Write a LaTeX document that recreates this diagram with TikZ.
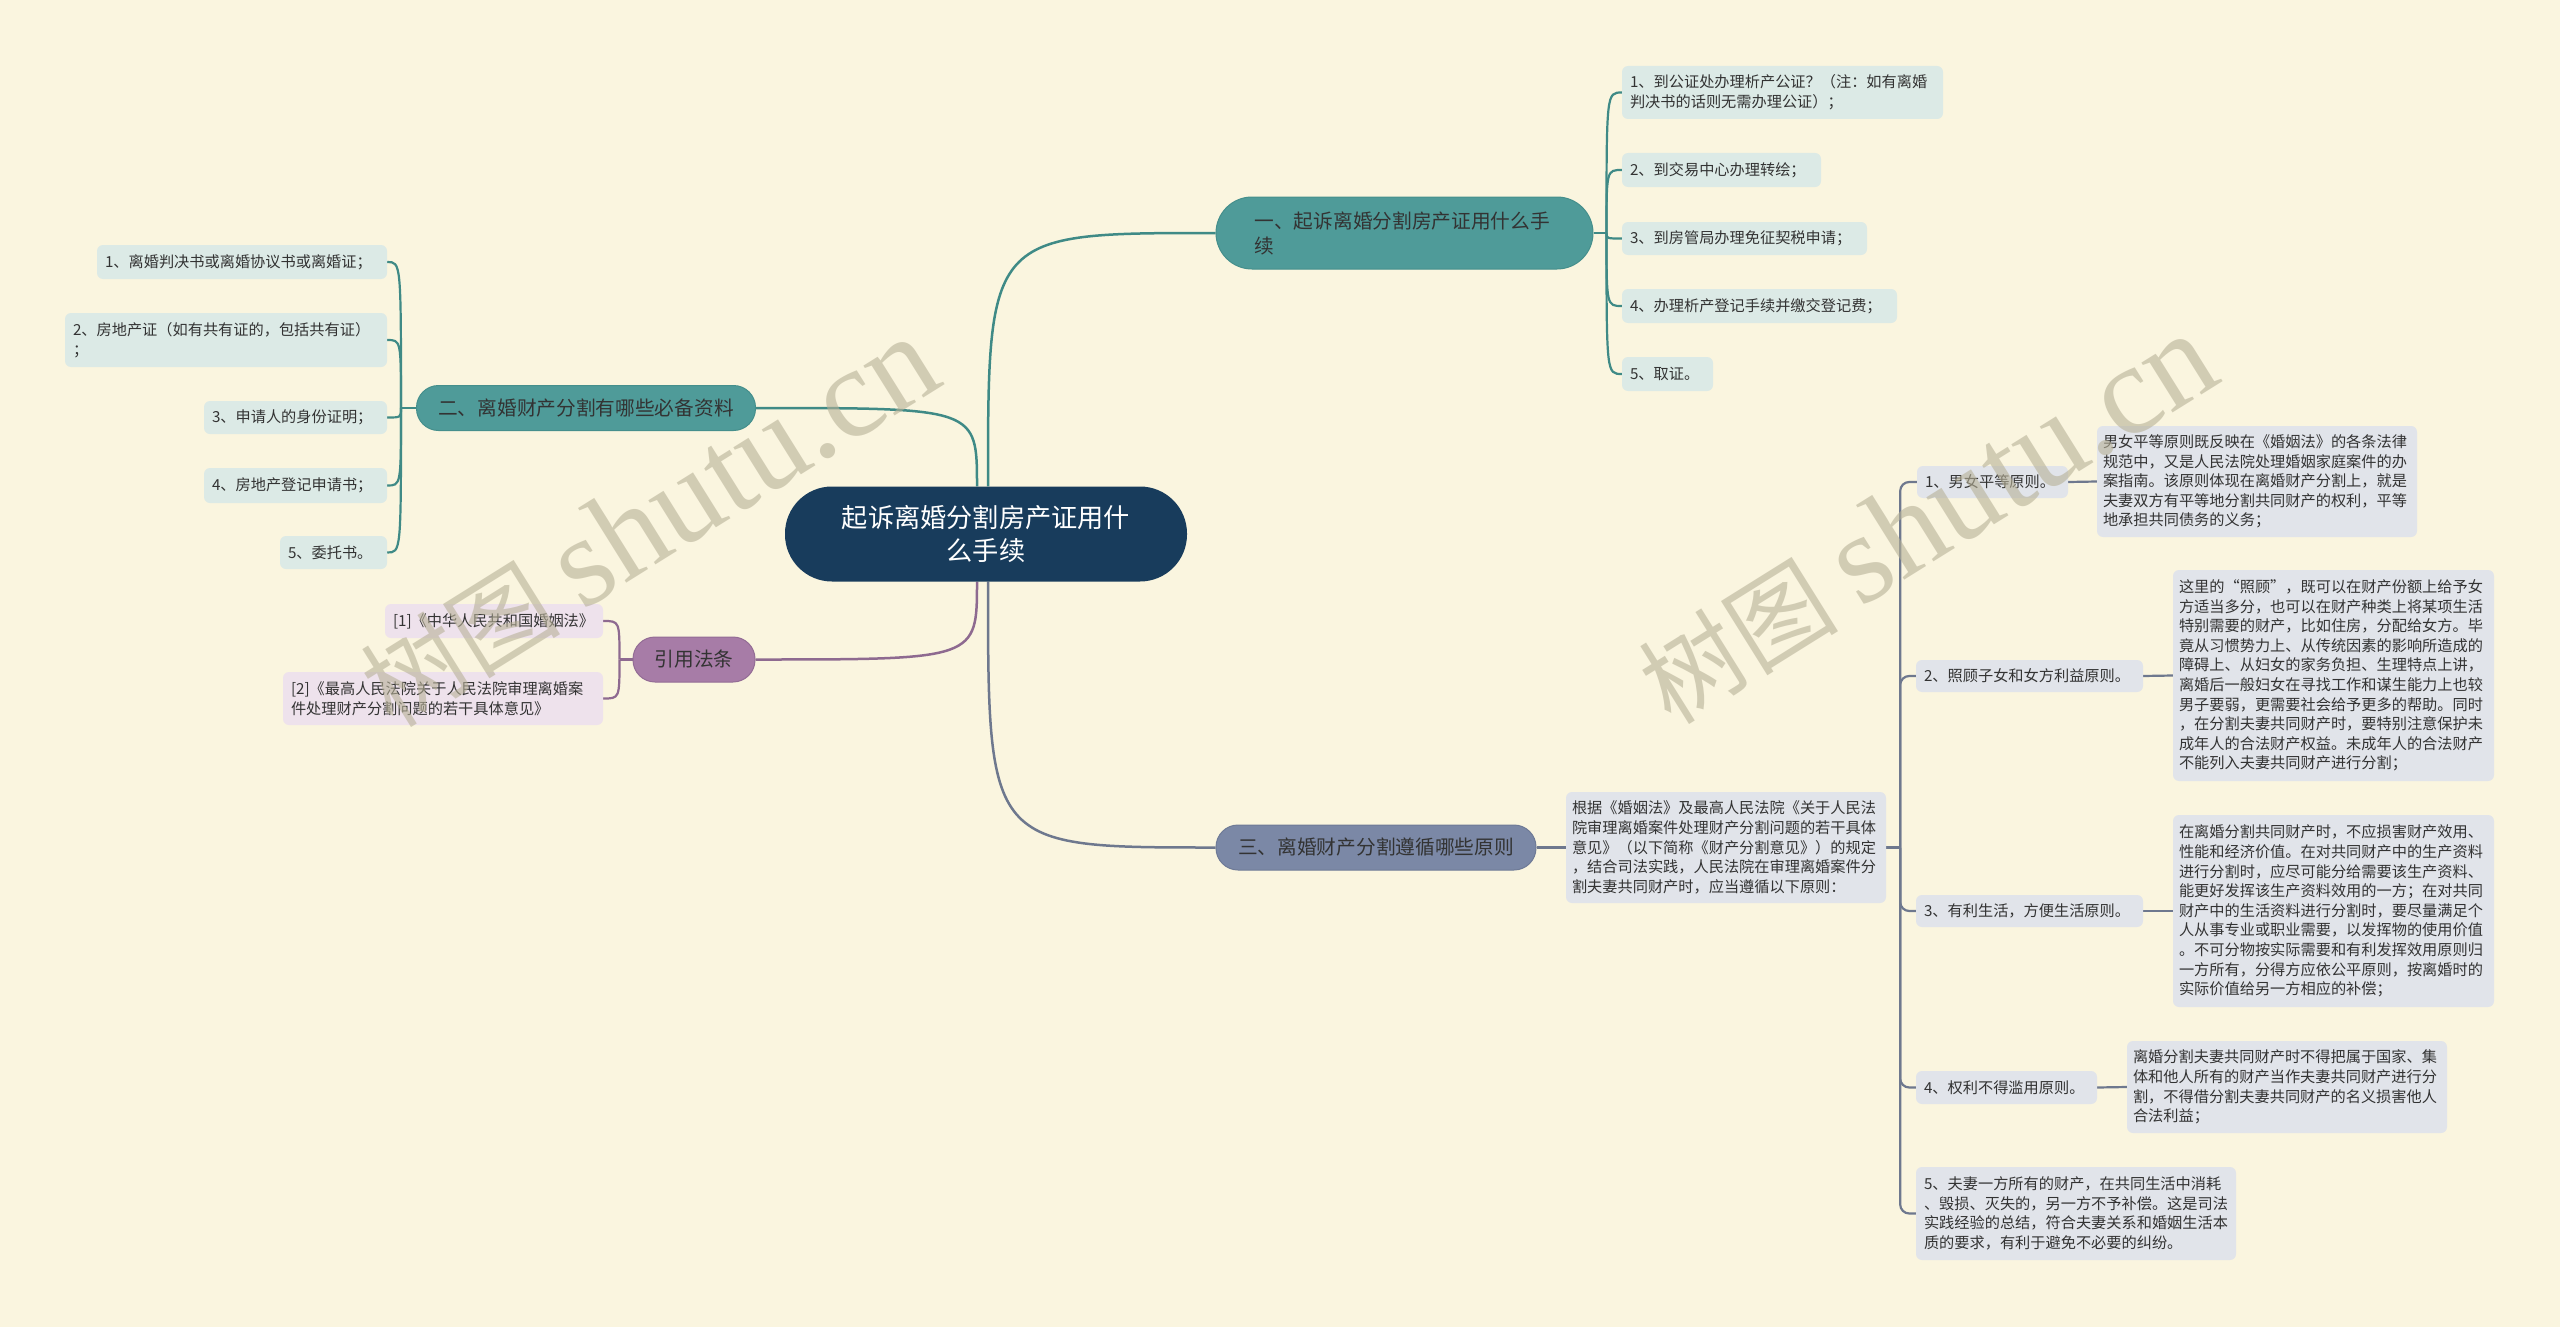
\documentclass[tikz,border=0pt]{standalone}
\usepackage{fontspec}
\setmainfont{Noto Sans CJK SC}
\newfontfamily\wmlatin{Liberation Serif}
\usetikzlibrary{calc}
\definecolor{bg}{HTML}{FAF5DF}
\definecolor{navy}{HTML}{183C5C}
\definecolor{tealf}{HTML}{4F9B99}
\definecolor{teald}{HTML}{458F8C}
\definecolor{teall}{HTML}{3F8A86}
\definecolor{tealit}{HTML}{DCEAE6}
\definecolor{slatef}{HTML}{7B88A6}
\definecolor{slated}{HTML}{6E7A96}
\definecolor{slatel}{HTML}{6E788E}
\definecolor{slateit}{HTML}{E1E4EA}
\definecolor{purf}{HTML}{A77CA7}
\definecolor{purd}{HTML}{936C95}
\definecolor{purl}{HTML}{8E6A90}
\definecolor{purit}{HTML}{EEE2EC}
\definecolor{txt}{HTML}{333333}
\definecolor{wm}{HTML}{B7B197}
\pgfdeclarelayer{background}
\pgfdeclarelayer{edges}
\pgfdeclarelayer{fg}
\pgfsetlayers{background,edges,main,fg}
\tikzset{
  small/.style={font=\fontsize{15.2pt}{19.6pt}\selectfont},
  item/.style={small, rounded corners=6pt, inner xsep=8pt, inner ysep=0pt, align=left, text=txt},
  tealitem/.style={item, fill=tealit},
  slateitem/.style={item, fill=slateit},
  puritem/.style={item, fill=purit},
  descbox/.style={item, inner xsep=6pt},
  branch/.style={font=\fontsize{19.7pt}{25pt}\selectfont, rounded corners=22pt, inner sep=0pt, line width=1pt},
  tealbranch/.style={branch, fill=tealf, draw=teald, text=black!80},
  slatebranch/.style={branch, fill=slatef, draw=slated, text=black!80},
  purbranch/.style={branch, fill=purf, draw=purd, text=black!80},
  tline/.style={draw=teall, line width=2.2pt},
  sline/.style={draw=slatel, line width=2.2pt},
  pline/.style={draw=purl, line width=2.2pt},
  wmark/.style={text=wm, text opacity=0.6, rotate=32, inner sep=0pt}
}
\begin{document}
\begin{tikzpicture}[x=1pt,y=-1pt]
\begin{pgfonlayer}{background}
\fill[bg] (0,0) rectangle (2560,1327);
\end{pgfonlayer}
\useasboundingbox (0,0) rectangle (2560,1327);

% center
\node[fill=navy, text=white, rounded corners=47pt, minimum width=402pt, minimum height=95pt, inner sep=0pt, align=center, font=\fontsize{26.2pt}{33pt}\selectfont] (C) at (986,534) {起诉离婚分割房产证用什\\么手续};

% branch 1
\node[tealbranch, rounded corners=36pt, minimum width=377pt, minimum height=72pt, text width=300pt, align=left] (B1) at (1404.5,233) {一、起诉离婚分割房产证用什么手\\续};
\node[tealitem, minimum height=53pt, text width=305pt] (I1) at (1782.5,92.5) {1、到公证处办理析产公证？（注：如有离婚\\判决书的话则无需办理公证）；};
\node[tealitem, minimum height=34pt, text width=183pt] (I2) at (1721.5,170) {2、到交易中心办理转绘；};
\node[tealitem, minimum height=33pt, text width=229pt] (I3) at (1744.5,238.5) {3、到房管局办理免征契税申请；};
\node[tealitem, minimum height=34pt, text width=259pt] (I4) at (1759.5,306) {4、办理析产登记手续并缴交登记费；};
\node[tealitem, minimum height=34pt, text width=75pt] (I5) at (1667.5,374) {5、取证。};

% branch 2
\node[tealbranch, minimum width=339pt, minimum height=45pt] (B2) at (586,408) {二、离婚财产分割有哪些必备资料};
\node[tealitem, minimum height=34pt, text width=274pt] (L1) at (242,262) {1、离婚判决书或离婚协议书或离婚证；};
\node[tealitem, minimum height=54pt, text width=306pt] (L2) at (226,340) {2、房地产证（如有共有证的，包括共有证）\\；};
\node[tealitem, minimum height=33pt, text width=167pt] (L3) at (295.5,417.5) {3、申请人的身份证明；};
\node[tealitem, minimum height=35pt, text width=167pt] (L4) at (295.5,485.5) {4、房地产登记申请书；};
\node[tealitem, minimum height=33pt, text width=91pt] (L5) at (333.5,552.5) {5、委托书。};

% references
\node[purbranch, minimum width=122pt, minimum height=45pt] (R) at (694,659.5) {引用法条};
\node[puritem, minimum height=34pt, text width=202pt] (F1) at (494,621) {[1]《中华人民共和国婚姻法》};
\node[puritem, minimum height=53pt, text width=304pt] (F2) at (443,698.5) {[2]《最高人民法院关于人民法院审理离婚案\\件处理财产分割问题的若干具体意见》};

% branch 3
\node[slatebranch, minimum width=320pt, minimum height=45pt] (B3) at (1376,847.5) {三、离婚财产分割遵循哪些原则};
\node[slateitem, descbox, minimum height=111pt, text width=308pt] (D) at (1726,847.5) {根据《婚姻法》及最高人民法院《关于人民法\\院审理离婚案件处理财产分割问题的若干具体\\意见》（以下简称《财产分割意见》）的规定\\，结合司法实践，人民法院在审理离婚案件分\\割夫妻共同财产时，应当遵循以下原则：};
\node[slateitem, minimum height=32pt, text width=135pt] (P1) at (1992.5,482) {1、男女平等原则。};
\node[slateitem, descbox, minimum height=111pt, text width=308pt] (P1D) at (2257,481.5) {男女平等原则既反映在《婚姻法》的各条法律\\规范中，又是人民法院处理婚姻家庭案件的办\\案指南。该原则体现在离婚财产分割上，就是\\夫妻双方有平等地分割共同财产的权利，平等\\地承担共同债务的义务；};
\node[slateitem, minimum height=32pt, text width=211pt] (P2) at (2029.5,676) {2、照顾子女和女方利益原则。};
\node[slateitem, descbox, minimum height=211pt, text width=309pt] (P2D) at (2333.5,675.5) {这里的“照顾”，既可以在财产份额上给予女\\方适当多分，也可以在财产种类上将某项生活\\特别需要的财产，比如住房，分配给女方。毕\\竟从习惯势力上、从传统因素的影响所造成的\\障碍上、从妇女的家务负担、生理特点上讲，\\离婚后一般妇女在寻找工作和谋生能力上也较\\男子要弱，更需要社会给予更多的帮助。同时\\，在分割夫妻共同财产时，要特别注意保护未\\成年人的合法财产权益。未成年人的合法财产\\不能列入夫妻共同财产进行分割；};
\node[slateitem, minimum height=32pt, text width=211pt] (P3) at (2029.5,911) {3、有利生活，方便生活原则。};
\node[slateitem, descbox, minimum height=192pt, text width=309pt] (P3D) at (2333.5,911) {在离婚分割共同财产时，不应损害财产效用、\\性能和经济价值。在对共同财产中的生产资料\\进行分割时，应尽可能分给需要该生产资料、\\能更好发挥该生产资料效用的一方；在对共同\\财产中的生活资料进行分割时，要尽量满足个\\人从事专业或职业需要，以发挥物的使用价值\\。不可分物按实际需要和有利发挥效用原则归\\一方所有，分得方应依公平原则，按离婚时的\\实际价值给另一方相应的补偿；};
\node[slateitem, minimum height=33pt, text width=165pt] (P4) at (2006.5,1087.5) {4、权利不得滥用原则。};
\node[slateitem, descbox, minimum height=92pt, text width=308pt] (P4D) at (2287,1087) {离婚分割夫妻共同财产时不得把属于国家、集\\体和他人所有的财产当作夫妻共同财产进行分\\割，不得借分割夫妻共同财产的名义损害他人\\合法利益；};
\node[slateitem, minimum height=93pt, text width=304pt] (P5) at (2076,1213.5) {5、夫妻一方所有的财产，在共同生活中消耗\\、毁损、灭失的，另一方不予补偿。这是司法\\实践经验的总结，符合夫妻关系和婚姻生活本\\质的要求，有利于避免不必要的纠纷。};

% junction coordinates
\coordinate (cN1) at ($(C.north)+(2,0)$);
\coordinate (cN2) at ($(C.north)+(-9,0)$);
\coordinate (cS1) at ($(C.south)+(2,0)$);
\coordinate (cS2) at ($(C.south)+(-9,0)$);
\coordinate (J1) at ($(B1.east)+(13,0)$);
\coordinate (J2) at ($(B2.west)+(-15,0)$);
\coordinate (JR) at ($(R.west)+(-13,0)$);
\coordinate (J3) at ($(D.east)+(14,0)$);

\begin{pgfonlayer}{edges}
% main connectors
\draw[tline, line width=2.5pt] (cN1) .. controls (cN1 |- B1.west) .. (B1.west);
\draw[tline, line width=2.5pt] (cN2) .. controls (cN2 |- B2.east) .. (B2.east);
\draw[sline, line width=2.5pt] (cS1) .. controls (cS1 |- B3.west) .. (B3.west);
\draw[pline, line width=2.5pt] (cS2) .. controls (cS2 |- R.east) .. (R.east);
% branch 1
\draw[tline] (B1.east) -- (J1);
\foreach \n in {I1,I2,I3,I4,I5}{
  \draw[tline] (J1) .. controls (J1 |- \n.west) .. (\n.west);
}
% branch 2
\draw[tline] (B2.west) -- (J2);
\foreach \n in {L1,L2,L3,L4,L5}{
  \draw[tline] (J2) .. controls (J2 |- \n.east) .. (\n.east);
}
% references
\draw[pline] (R.west) -- (JR);
\foreach \n in {F1,F2}{
  \draw[pline] (JR) .. controls (JR |- \n.east) .. (\n.east);
}
% branch 3
\draw[sline] (B3.east) -- (D.west);
\draw[sline] (D.east) -- (J3);
\foreach \n in {P1,P2,P3,P4,P5}{
  \draw[sline, rounded corners=9pt] (J3) |- (\n.west);
}
\draw[sline] (P1.east) -- (P1D.west);
\draw[sline] (P2.east) -- (P2D.west);
\draw[sline] (P3.east) -- (P3D.west);
\draw[sline] (P4.east) -- (P4D.west);
\end{pgfonlayer}

% watermarks
\begin{pgfonlayer}{fg}
\node[wmark] (W1) at (649,522) {\fontsize{100pt}{100pt}\selectfont 树图 {\wmlatin\fontsize{128pt}{128pt}\selectfont shutu.cn}};
\node[wmark] (W2) at (1927,519) {\fontsize{100pt}{100pt}\selectfont 树图 {\wmlatin\fontsize{128pt}{128pt}\selectfont shutu.cn}};
\end{pgfonlayer}
\end{tikzpicture}
\end{document}
